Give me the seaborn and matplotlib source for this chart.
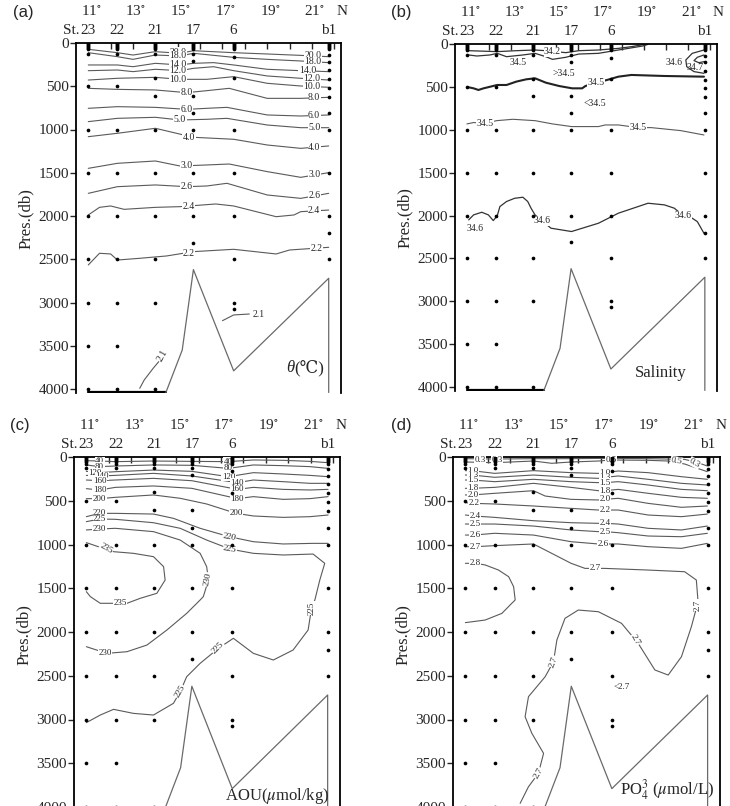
import matplotlib
matplotlib.use("Agg")
import matplotlib.pyplot as plt
import seaborn as sns

sns.set_style("ticks")
plt.rcParams["font.family"] = ["Liberation Serif", "DejaVu Serif", "DejaVu Sans"]
plt.rcParams["mathtext.fontset"] = "stix"

# stations along the section (latitude, deg N)
station_names = ["23", "22", "21", "17", "6", "b1"]
station_lat = [11.0, 12.3, 14.0, 15.7, 17.5, 21.75]
lat_ticks = [11, 13, 15, 17, 19, 21]
p_ticks = [0, 500, 1000, 1500, 2000, 2500, 3000, 3500, 4000]

# sampling depths (db) at each station
surface_p = [0, 10, 20, 30, 45, 60, 75]
depth_23 = surface_p + [125, 500, 1000, 1500, 2000, 2500, 3000, 3500, 4000]
depth_22 = surface_p + [125, 500, 1000, 1500, 2000, 2500, 3000, 3500, 4000]
depth_21 = surface_p + [125, 405, 610, 1000, 1500, 2000, 2500, 3000, 4000]
depth_17 = surface_p + [125, 210, 610, 810, 1000, 1500, 2000, 2310]
depth_6 = surface_p + [160, 408, 1000, 1500, 2000, 2500, 3000, 3070]
depth_b1 = surface_p + [140, 215, 310, 415, 515, 620, 810, 1000, 1500, 2000, 2200, 2500]

# bottom topography
topo_lat = [11.0, 14.47, 15.2, 15.7, 17.5, 21.75, 21.75]
topo_p = [4040, 4040, 3550, 2620, 3790, 2720, 4040]

# (a) potential temperature isolines (lat, p)
theta_20 = ([11.0, 12.3, 13.0, 14.0, 15.1, 15.7, 17.5, 19.0, 20.5, 21.75], [73, 112, 139, 100, 119, 89, 112, 127, 143, 158])
theta_18 = ([11.0, 12.3, 13.0, 14.0, 15.1, 15.7, 17.5, 19.0, 20.5, 21.75], [112, 158, 189, 139, 150, 119, 166, 189, 208, 227])
theta_14 = ([11.0, 12.3, 13.0, 14.0, 15.1, 15.7, 16.6, 17.5, 19.0, 20.5, 21.75], [254, 254, 274, 235, 254, 235, 227, 254, 304, 320, 331])
theta_12 = ([11.0, 12.3, 13.0, 14.0, 15.1, 15.7, 16.6, 17.5, 19.0, 20.5, 21.75], [320, 312, 331, 304, 320, 293, 274, 320, 381, 408, 428])
theta_10 = ([11.0, 12.3, 14.0, 15.1, 16.3, 17.5, 19.0, 20.5, 21.75], [428, 408, 397, 420, 420, 389, 466, 497, 512])
theta_8 = ([11.0, 12.3, 14.0, 15.4, 16.3, 17.3, 19.0, 20.5, 21.75], [524, 536, 543, 574, 551, 524, 640, 640, 628])
theta_6 = ([11.0, 12.3, 14.0, 15.4, 16.3, 17.2, 19.0, 20.5, 21.75], [755, 736, 744, 767, 755, 744, 832, 844, 832])
theta_5 = ([11.0, 12.3, 14.0, 15.1, 16.3, 17.2, 19.0, 20.5, 21.75], [909, 871, 859, 890, 882, 871, 948, 979, 979])
theta_4 = ([11.0, 12.3, 14.0, 15.7, 17.5, 19.0, 20.5, 21.75], [1083, 1044, 986, 1090, 1113, 1179, 1218, 1190])
theta_3 = ([11.0, 12.3, 14.0, 15.1, 16.3, 17.3, 19.0, 20.5, 21.75], [1449, 1391, 1364, 1422, 1410, 1399, 1487, 1553, 1499])
theta_26 = ([11.0, 12.3, 14.0, 15.4, 16.3, 17.2, 19.0, 20.5, 21.75], [1738, 1661, 1641, 1661, 1653, 1622, 1757, 1796, 1738])
theta_24 = ([11.0, 11.5, 12.0, 12.6, 14.0, 15.1, 16.7, 17.5, 19.4, 20.2, 20.5, 21.75], [1988, 1900, 1884, 1923, 1900, 1892, 1861, 1884, 2008, 1988, 1950, 1931])
theta_22 = ([11.0, 11.5, 12.0, 12.3, 13.3, 14.5, 15.7, 17.5, 19.4, 20.0, 21.75], [2566, 2431, 2439, 2509, 2489, 2462, 2412, 2385, 2439, 2393, 2362])
theta_21a = ([17.0, 17.5, 18.2], [3210, 3144, 3133])
theta_21b = ([13.3, 13.5, 13.9, 14.15], [3992, 3896, 3761, 3684])
theta_labels = [("20.0", 15.0, 108, 0), ("18.0", 15.0, 148, 0), ("14.0", 15.0, 254, 0), ("12.0", 15.0, 320, 0),
                ("10.0", 15.0, 420, 0), ("8.0", 15.4, 570, 0), ("6.0", 15.4, 767, 0), ("5.0", 15.1, 890, 0),
                ("4.0", 15.5, 1090, 0), ("3.0", 15.4, 1418, 0), ("2.6", 15.4, 1661, 0), ("2.4", 15.5, 1885, 0),
                ("2.2", 15.5, 2430, 0), ("20.0", 21.05, 150, 0), ("18.0", 21.05, 216, 0), ("14.0", 20.8, 318, 0),
                ("12.0", 21.0, 410, 0), ("10.0", 21.0, 500, 0), ("8.0", 21.1, 634, 0), ("6.0", 21.1, 838, 0),
                ("5.0", 21.1, 979, 0), ("4.0", 21.1, 1204, 0), ("3.0", 21.1, 1520, 0), ("2.6", 21.1, 1765, 0),
                ("2.4", 21.1, 1940, 0), ("2.2", 21.2, 2370, 0), ("2.1", 18.6, 3140, 0), ("2.1", 14.3, 3610, 60)]

# (b) salinity isolines
sal_342 = ([11.07, 12.36, 13.22, 14.07, 14.56, 15.46, 16.05, 16.94, 17.84, 18.43, 19.03], [78, 89, 78, 70, 78, 101, 78, 70, 51, 31, 4])
sal_345_top = ([11.07, 11.44, 12.03, 12.36, 12.78, 13.52, 14.07, 14.56, 14.86, 15.46, 16.05, 16.94, 17.84, 18.95, 19.18],
               [128, 140, 128, 109, 148, 128, 109, 148, 179, 155, 117, 109, 70, 23, 4])
sal_346_b1 = ([21.71, 21.18, 20.89, 20.93, 21.26, 21.71], [70, 109, 186, 264, 322, 342])
sal_347_b1 = ([21.71, 21.41, 21.26, 21.48, 21.71], [128, 155, 194, 218, 206])
sal_345_mid = ([11.07, 11.29, 11.51, 11.74, 12.36, 12.78, 13.22, 13.67, 14.07, 14.56, 15.16, 15.75, 16.2, 16.35, 16.84, 17.32, 17.84, 18.43, 19.92, 21.71],
               [505, 517, 536, 517, 478, 478, 439, 412, 400, 451, 490, 517, 517, 490, 451, 420, 381, 361, 373, 381])
sal_345_low = ([10.99, 11.29, 11.81, 12.33, 13.07, 14.07, 14.86, 15.72, 16.94, 17.24, 17.84, 18.73, 19.32, 20.66, 21.71],
               [932, 916, 925, 894, 878, 894, 932, 963, 963, 944, 944, 975, 975, 1010, 1061])
sal_346_low = ([11.07, 11.29, 11.66, 11.96, 12.18, 12.36, 12.48, 12.78, 13.15, 13.52, 13.74, 13.89, 14.07, 14.38, 14.79,
                15.72, 16.94, 17.84, 19.18, 19.92, 20.37, 20.78, 21.18, 21.41, 21.71],
               [2051, 1993, 1962, 1993, 2059, 2004, 1896, 1837, 1799, 1787, 1837, 1915, 1993, 2060, 2148,
                2187, 2090, 1973, 1857, 1876, 1915, 2004, 2032, 2071, 2207])
sal_labels = [("34.2", 14.86, 92, 0), ("34.5", 16.84, 451, 0), ("34.5", 11.81, 922, 0), ("34.5", 18.73, 968, 0),
              ("34.6", 20.78, 2004, 0), ("34.6", 14.38, 2060, 0)]
sal_notes = [("34.5", 13.3, 214), (">34.5", 15.38, 342), ("<34.5", 16.79, 699), ("34.6", 20.37, 218),
             ("34.7", 21.33, 276), ("34.6", 11.36, 2150)]

# (c) AOU isolines
aou_40 = ([11.0, 11.59, 12.29, 13.99, 15.7, 17.33, 18.44, 19.77, 20.96, 21.77], [42, 46, 53, 46, 50, 53, 34, 38, 50, 65])
aou_80 = ([11.0, 11.59, 12.29, 13.99, 15.7, 17.33, 18.44, 19.77, 20.96, 21.77], [91, 110, 103, 91, 95, 130, 91, 99, 110, 130])
aou_120 = ([11.0, 11.59, 12.29, 13.99, 15.7, 17.33, 18.44, 19.77, 20.96, 21.77], [164, 179, 168, 149, 164, 225, 179, 194, 210, 225])
aou_140 = ([11.0, 11.59, 12.29, 13.99, 15.7, 17.73, 18.44, 19.77, 20.96, 21.77], [210, 217, 210, 187, 217, 293, 263, 282, 301, 301])
aou_160 = ([11.0, 11.59, 12.29, 13.99, 15.7, 17.73, 18.44, 19.77, 20.96, 21.77], [263, 271, 263, 244, 271, 370, 347, 370, 377, 370])
aou_180 = ([11.0, 11.59, 12.29, 13.99, 15.7, 17.73, 18.44, 19.77, 20.96, 21.77], [362, 377, 347, 331, 358, 476, 453, 484, 476, 453])
aou_200 = ([11.0, 11.59, 12.29, 13.99, 15.18, 16.36, 17.67, 18.44, 19.77, 20.96, 21.77], [476, 476, 461, 434, 472, 537, 644, 674, 690, 682, 663])
aou_220 = ([11.0, 11.59, 12.29, 13.99, 14.88, 16.07, 17.37, 18.44, 19.77, 21.1, 21.77], [682, 644, 644, 652, 701, 815, 911, 968, 994, 987, 987])
aou_225 = ([11.0, 11.59, 12.29, 13.99, 15.18, 16.36, 17.4, 18.44, 19.77, 21.1, 21.62, 21.4, 21.18, 21.03, 20.88, 20.21,
            19.33, 18.44, 17.55, 16.88, 16.07, 15.47, 15.18, 14.88, 13.99, 13.1, 12.21, 11.62, 11.0],
           [739, 709, 712, 751, 815, 949, 1052, 1101, 1120, 1109, 1215, 1406, 1634, 1730, 1977, 2206,
            2320, 2244, 2072, 2187, 2358, 2511, 2682, 2815, 2949, 2930, 2884, 2949, 3036])
aou_230 = ([11.0, 11.59, 12.29, 13.99, 15.18, 16.07, 16.36, 16.44, 16.21, 16.07, 15.47, 14.59, 13.7, 12.81, 11.92, 11.0],
           [834, 823, 815, 853, 949, 1101, 1253, 1406, 1596, 1634, 1787, 1977, 2149, 2225, 2244, 2168])
aou_235 = ([11.0, 11.18, 11.62, 12.21, 13.1, 13.99, 14.44, 14.51, 14.14, 13.4, 12.81, 11.62, 11.18, 11.0],
           [979, 994, 1033, 1082, 1101, 1139, 1253, 1406, 1558, 1615, 1672, 1672, 1596, 1539])
aou_labels = [("40", 11.59, 46, 0), ("80", 11.59, 110, 0), ("120", 11.4, 179, 0), ("140", 11.7, 217, 0),
              ("160", 11.59, 271, 0), ("180", 11.59, 377, 0), ("200", 11.59, 476, 0),
              ("40", 17.33, 53, 0), ("80", 17.33, 130, 0), ("120", 17.33, 225, 0), ("140", 17.73, 293, 0),
              ("160", 17.73, 370, 0), ("180", 17.73, 476, 0), ("200", 17.67, 644, 0),
              ("220", 11.59, 644, 0), ("220", 17.37, 911, -10), ("225", 11.59, 709, 0), ("225", 17.4, 1052, -10),
              ("230", 11.59, 823, 0), ("235", 11.89, 1044, -30), ("230", 16.42, 1400, 80), ("225", 21.03, 1730, 90),
              ("225", 16.88, 2187, 45), ("225", 15.18, 2682, 60), ("235", 12.51, 1672, 0), ("230", 11.84, 2244, 0)]

# (d) phosphate isolines
po4_03 = ([11.0, 12.3, 14.02, 15.69, 17.46, 19.11, 20.73, 21.32, 21.74], [19, 23, 19, 19, 15, 19, 27, 65, 103])
po4_05 = ([11.0, 12.3, 14.02, 14.83, 15.69, 16.9, 17.46, 19.11, 20.0, 20.73, 21.74], [57, 65, 46, 72, 57, 46, 34, 38, 46, 80, 168])
po4_10 = ([11.0, 11.29, 12.3, 14.02, 15.69, 16.9, 17.19, 17.78, 19.11, 20.59, 21.74], [156, 156, 187, 156, 179, 187, 179, 160, 179, 225, 255])
po4_13 = ([11.0, 11.29, 12.3, 14.02, 15.69, 16.9, 17.19, 17.78, 19.11, 20.59, 21.74], [206, 206, 232, 206, 232, 244, 232, 217, 255, 301, 320])
po4_15 = ([11.0, 11.29, 12.3, 14.02, 15.69, 16.9, 17.19, 17.78, 19.11, 20.59, 21.74], [263, 263, 282, 255, 282, 293, 293, 282, 320, 370, 385])
po4_18 = ([11.0, 11.29, 12.3, 14.02, 15.69, 16.9, 17.19, 17.78, 19.11, 20.59, 21.74], [358, 358, 347, 301, 347, 385, 385, 370, 415, 461, 472])
po4_20 = ([11.0, 11.29, 12.3, 14.02, 14.54, 15.69, 16.9, 17.19, 17.78, 19.11, 20.59, 21.74], [434, 434, 415, 385, 446, 484, 491, 484, 472, 530, 575, 560])
po4_22 = ([11.0, 11.37, 12.3, 14.02, 15.69, 16.9, 17.19, 17.78, 19.11, 20.59, 21.74], [522, 530, 537, 560, 587, 606, 606, 606, 663, 682, 652])
po4_24 = ([11.0, 11.37, 12.3, 14.02, 15.69, 16.9, 17.19, 17.78, 19.11, 20.59, 21.74], [663, 674, 690, 728, 751, 758, 758, 766, 815, 834, 789])
po4_25 = ([11.0, 11.37, 12.3, 14.02, 15.69, 16.9, 17.19, 17.78, 19.11, 20.59, 21.74], [766, 766, 766, 789, 834, 853, 853, 865, 903, 911, 872])
po4_26 = ([11.0, 11.37, 12.3, 14.02, 15.69, 16.9, 17.19, 17.78, 19.11, 20.59, 21.74], [892, 892, 872, 892, 968, 994, 994, 994, 1025, 1044, 987])
po4_27 = ([11.0, 11.44, 12.3, 14.02, 14.83, 15.69, 16.31, 16.75, 17.19, 19.11, 20.73, 21.25, 21.32, 21.29, 21.03, 20.59,
           20.0, 19.41, 18.67, 17.93, 16.9, 16.01, 15.42, 15.06, 14.91, 14.54, 13.8, 13.65, 13.95, 14.47, 14.24, 13.8, 13.43],
          [1025, 1025, 1013, 994, 1101, 1215, 1273, 1273, 1273, 1292, 1311, 1406, 1634, 1691, 1939, 2282,
           2492, 2434, 2130, 1901, 1768, 1749, 1844, 2092, 2339, 2511, 2739, 2968, 3158, 3387, 3616, 3768, 3958])
po4_28 = ([11.0, 11.44, 11.88, 12.47, 12.92, 13.14, 13.21, 13.06, 12.62, 11.88, 11.0],
          [1215, 1215, 1234, 1292, 1368, 1482, 1634, 1672, 1787, 1863, 1893])
po4_labels = [("0.3", 11.66, 30, 0), ("0.3", 12.4, 30, 0), ("0.3", 21.18, 68, -30), ("0.5", 17.46, 36, 0),
              ("0.5", 20.37, 46, -10), ("1.0", 11.35, 156, 0), ("1.0", 17.19, 179, 0), ("1.3", 11.35, 206, 0),
              ("1.3", 17.19, 232, 0), ("1.5", 11.35, 263, 0), ("1.5", 17.19, 293, 0), ("1.8", 11.35, 358, 0),
              ("1.8", 17.19, 385, 0), ("2.0", 11.35, 434, 0), ("2.0", 17.19, 484, 0), ("2.2", 11.37, 530, 0),
              ("2.2", 17.19, 606, 0), ("2.4", 11.44, 674, 0), ("2.4", 17.19, 758, 0), ("2.5", 11.44, 766, 0),
              ("2.5", 17.19, 853, 0), ("2.6", 11.44, 892, 0), ("2.6", 17.12, 994, 0), ("2.7", 11.44, 1025, 0),
              ("2.7", 16.75, 1273, 0), ("2.8", 11.44, 1215, 0), ("2.7", 21.29, 1691, 90), ("2.7", 18.52, 2092, -60),
              ("2.7", 14.91, 2339, 70), ("2.7", 14.24, 3616, 60)]
po4_notes = [("<2.7", 17.93, 2625)]

# axes rectangles in figure pixels: left, right, top(0 db), px per db
W, H = 730, 806
panels = {
    "a": (76, 341, 43, 0.0865),
    "b": (455, 717, 44, 0.08575),
    "c": (74, 340, 457, 0.0875),
    "d": (453, 720, 457, 0.0875),
}
P_BOTTOM = 4050

fig = plt.figure(figsize=(W / 100, H / 100), dpi=100)


def make_axes(key):
    left, right, top, scale = panels[key]
    bottom = top + P_BOTTOM * scale
    return fig.add_axes([left / W, (H - bottom) / H, (right - left) / W, (bottom - top) / H])


def draw_line(ax, line, color="#5a5a5a", lw=0.8):
    sns.lineplot(x=line[0], y=line[1], sort=False, estimator=None, ax=ax, color=color, lw=lw)


def put_label(ax, txt, lat, p, rot=0, size=7):
    ax.text(lat, p, txt, fontsize=size, rotation=rot, ha="center", va="center", rotation_mode="anchor",
            bbox=dict(facecolor="white", edgecolor="none", pad=0.3), zorder=4)


def finish(ax, tag, tag_xy, unit, unit_pos):
    # topography
    draw_line(ax, (topo_lat[:2], topo_p[:2]), color="black", lw=1.6)
    draw_line(ax, (topo_lat[1:], topo_p[1:]), color="#6a6a6a", lw=0.9)
    # sampling points
    depths = [depth_23, depth_22, depth_21, depth_17, depth_6, depth_b1]
    xs, ys = [], []
    for lat, dep in zip(station_lat, depths):
        xs += [lat] * len(dep)
        ys += dep
    sns.scatterplot(x=xs, y=ys, ax=ax, color="black", s=7, linewidth=0, zorder=5)

    ax.set_xlim(10.45, 22.3)
    ax.set_ylim(P_BOTTOM, 0)
    ax.set_yticks(p_ticks)
    ax.set_xticks(range(11, 23))
    ax.tick_params(axis="y", direction="out", length=4, width=1, labelsize=11, pad=1)
    ax.tick_params(axis="x", bottom=False, top=True, labelbottom=False, labeltop=False,
                   direction="in", length=4, width=1)
    ax.spines["bottom"].set_visible(False)
    for s in ("left", "top", "right"):
        ax.spines[s].set_linewidth(1.3)
        ax.spines[s].set_color("black")
    ax.set_ylabel("Pres.(db)", fontsize=12, labelpad=3)

    # station names and latitudes above the frame
    for lat, name in zip(station_lat, station_names):
        ax.annotate(name, xy=(lat, 1), xycoords=("data", "axes fraction"), xytext=(0, 9),
                    textcoords="offset points", ha="center", va="center", fontsize=11)
    ax.annotate("St.", xy=(10.62, 1), xycoords=("data", "axes fraction"), xytext=(0, 9),
                textcoords="offset points", ha="right", va="center", fontsize=11)
    for lat in lat_ticks:
        ax.annotate(f"{lat}$^{{\\circ}}$", xy=(lat, 1), xycoords=("data", "axes fraction"), xytext=(2, 23),
                    textcoords="offset points", ha="center", va="center", fontsize=11)
    ax.annotate("N", xy=(22.33, 1), xycoords=("data", "axes fraction"), xytext=(0, 23),
                textcoords="offset points", ha="center", va="center", fontsize=11)

    if unit:
        ax.text(unit_pos[0], unit_pos[1], unit, fontsize=12, ha="center", va="center")
    fig.text(tag_xy[0] / W, 1 - tag_xy[1] / H, tag, fontsize=12, family="Liberation Sans",
             ha="center", va="center")


# (a) theta
ax = make_axes("a")
for line in [theta_20, theta_18, theta_14, theta_12, theta_10, theta_8, theta_6, theta_5, theta_4,
             theta_3, theta_26, theta_24, theta_22, theta_21a, theta_21b]:
    draw_line(ax, line)
for txt, lat, p, rot in theta_labels:
    put_label(ax, txt, lat, p, rot)
finish(ax, "(a)", (23, 12), None, None)
ax.text(20.2, 3760, "\u03b8", fontsize=12, style="italic", ha="right", va="center")
ax.text(20.2, 3760, "(\u2103)", fontsize=12, ha="left", va="center",
        family=["Liberation Serif", "DejaVu Serif", "DejaVu Sans"])

# (b) salinity
ax = make_axes("b")
for line in [sal_342, sal_345_top, sal_346_b1, sal_347_b1, sal_346_low]:
    draw_line(ax, line, color="#333333", lw=0.9)
draw_line(ax, sal_345_mid, color="#222222", lw=1.5)
draw_line(ax, sal_345_low, color="#5a5a5a", lw=0.8)
for txt, lat, p, rot in sal_labels:
    put_label(ax, txt, lat, p, rot)
for txt, lat, p in sal_notes:
    ax.text(lat, p, txt, fontsize=7, ha="center", va="center")
finish(ax, "(b)", (401, 13), "Salinity", (19.75, 3840))

# (c) AOU
ax = make_axes("c")
for line in [aou_40, aou_80, aou_120, aou_140, aou_160, aou_180, aou_200, aou_220, aou_225, aou_230, aou_235]:
    draw_line(ax, line)
for txt, lat, p, rot in aou_labels:
    put_label(ax, txt, lat, p, rot, size=6.5)
finish(ax, "(c)", (20, 425), "AOU($\\mu$mol/kg)", (19.5, 3880))

# (d) PO4
ax = make_axes("d")
for line in [po4_03, po4_05, po4_10, po4_13, po4_15, po4_18, po4_20, po4_22, po4_24, po4_25, po4_26,
             po4_27, po4_28]:
    draw_line(ax, line)
for txt, lat, p, rot in po4_labels:
    put_label(ax, txt, lat, p, rot, size=6.5)
for txt, lat, p in po4_notes:
    ax.text(lat, p, txt, fontsize=6.5, ha="center", va="center")
finish(ax, "(d)", (401, 425), "PO$_4^{3}$ ($\\mu$mol/L)", (19.95, 3805))

fig.savefig("out.png", dpi=100)
